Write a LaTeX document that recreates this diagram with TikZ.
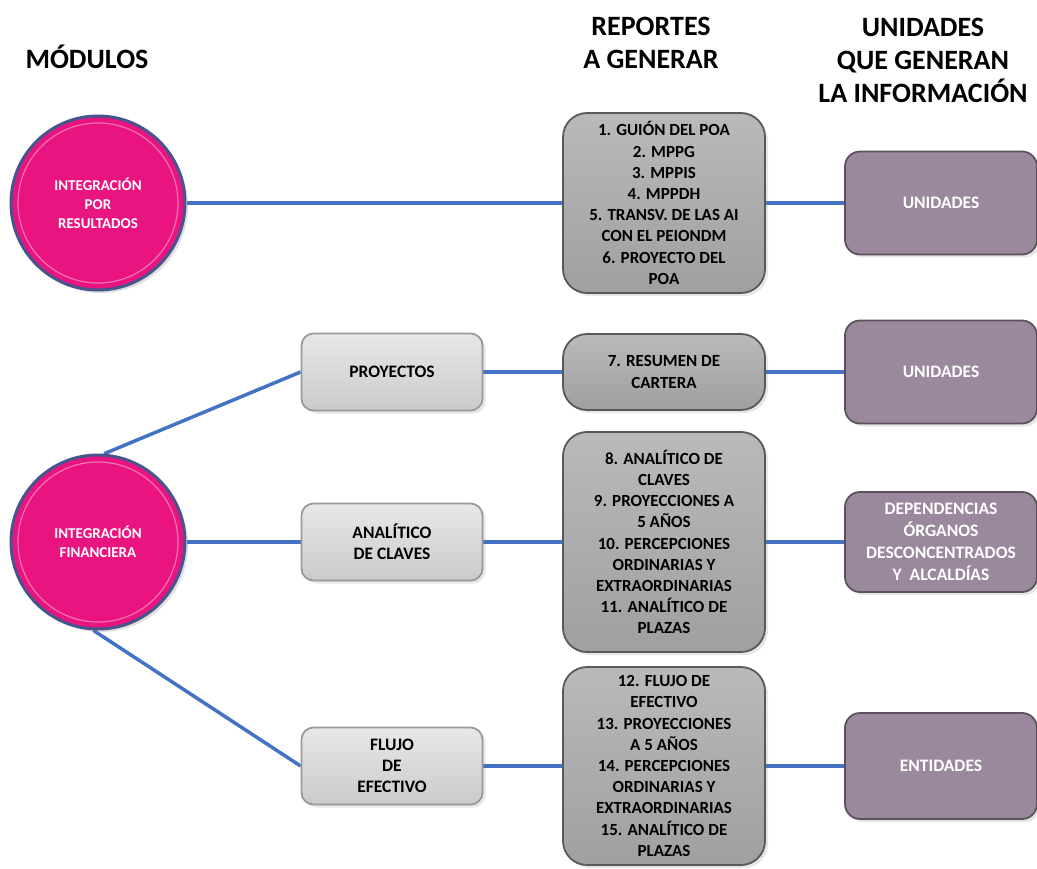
\documentclass[tikz,border=0pt]{standalone}
\usepackage{fontspec}
\setmainfont{Carlito}
\usetikzlibrary{shadows,backgrounds}

\definecolor{rosa}{RGB}{234,20,128}
\definecolor{aro}{RGB}{72,84,140}
\definecolor{linea}{RGB}{68,114,196}
\definecolor{gris}{RGB}{168,168,170}
\definecolor{grisclaro}{RGB}{216,216,218}
\definecolor{malva}{RGB}{154,136,156}

\tikzset{
  modulo/.style={circle, minimum size=174pt, inner sep=0pt, fill=rosa,
    draw=aro, line width=3pt, text=white, align=center,
    font=\fontsize{15}{19}\selectfont\bfseries,
    path picture={\draw[rosa!60!white, line width=1.2pt]
      (path picture bounding box.center) circle (80pt);},
    drop shadow={shadow xshift=3pt, shadow yshift=-3pt, opacity=.25}},
  submodulo/.style={rectangle, rounded corners=12pt, minimum width=181pt,
    minimum height=77pt, inner sep=0pt, top color=grisclaro!60!white,
    bottom color=grisclaro!85!gray, draw=gray!80, line width=1.8pt,
    align=center, font=\fontsize{17.5}{21}\selectfont\bfseries,
    drop shadow={shadow xshift=3pt, shadow yshift=-3pt, opacity=.2}},
  reporte/.style={rectangle, rounded corners=24pt, minimum width=202pt,
    inner sep=0pt, top color=gris!80!white, bottom color=gris!95!black,
    draw=gray!70!black, line width=1.8pt, align=center,
    font=\fontsize{17}{21.2}\selectfont\bfseries,
    drop shadow={shadow xshift=3pt, shadow yshift=-3pt, opacity=.2}},
  unidad/.style={rectangle, rounded corners=15pt, minimum width=192pt,
    inner sep=0pt, fill=malva, draw=malva!60!black, line width=1.8pt,
    text=white, align=center, font=\fontsize{17.5}{22}\selectfont\bfseries,
    drop shadow={shadow xshift=3pt, shadow yshift=-3pt, opacity=.2}},
  titulo/.style={align=center, font=\fontsize{28}{33}\selectfont\bfseries},
  enlace/.style={draw=linea, line width=3.5pt}
}

\begin{document}
\begin{tikzpicture}[x=1pt, y=-1pt]
  \useasboundingbox (0,0) rectangle (1037,869);

  % encabezados
  \node[titulo] (tmod) at (87,57) {MÓDULOS};
  \node[titulo] (trep) at (651,43) {REPORTES\\A GENERAR};
  \node[titulo] (tuni) at (923,60) {UNIDADES\\QUE GENERAN\\LA INFORMACIÓN};

  % modulos
  \node[modulo] (resultados) at (98,203) {INTEGRACIÓN\\POR\\RESULTADOS};
  \node[modulo] (financiera) at (98,542) {INTEGRACIÓN\\FINANCIERA};

  \node[submodulo] (proyectos) at (392,372) {PROYECTOS};
  \node[submodulo] (claves) at (392,542) {ANALÍTICO\\DE CLAVES};
  \node[submodulo] (flujo) at (392,766) {FLUJO\\DE\\EFECTIVO};

  % reportes
  \node[reporte, minimum height=180pt] (rep1) at (664,203)
    {1. GUIÓN DEL POA\\2. MPPG\\3. MPPIS\\4. MPPDH\\5. TRANSV. DE LAS AI\\CON EL PEIONDM\\6. PROYECTO DEL\\POA};
  \node[reporte, minimum height=76pt] (rep2) at (664,372)
    {7. RESUMEN DE\\CARTERA};
  \node[reporte, minimum height=220pt] (rep3) at (664,542)
    {8. ANALÍTICO DE\\CLAVES\\9. PROYECCIONES A\\5 AÑOS\\10. PERCEPCIONES\\ORDINARIAS Y\\EXTRAORDINARIAS\\11. ANALÍTICO DE\\PLAZAS};
  \node[reporte, minimum height=198pt] (rep4) at (664,766)
    {12. FLUJO DE\\EFECTIVO\\13. PROYECCIONES\\A 5 AÑOS\\14. PERCEPCIONES\\ORDINARIAS Y\\EXTRAORDINARIAS\\15. ANALÍTICO DE\\PLAZAS};

  % unidades
  \node[unidad, minimum height=103pt] (uni1) at (941,203) {UNIDADES};
  \node[unidad, minimum height=103pt] (uni2) at (941,372) {UNIDADES};
  \node[unidad, minimum height=100pt] (uni3) at (941,542)
    {DEPENDENCIAS\\ÓRGANOS\\DESCONCENTRADOS\\Y\ \ ALCALDÍAS};
  \node[unidad, minimum height=106pt] (uni4) at (941,766) {ENTIDADES};

  \begin{scope}[on background layer]
    \draw[enlace] (resultados) -- (rep1) -- (uni1);
    \draw[enlace] (financiera.86) -- (proyectos.west);
    \draw[enlace] (financiera) -- (claves) -- (rep3) -- (uni3);
    \draw[enlace] (financiera.-93) -- (flujo.west);
    \draw[enlace] (proyectos) -- (rep2) -- (uni2);
    \draw[enlace] (flujo) -- (rep4) -- (uni4);
  \end{scope}

\end{tikzpicture}
\end{document}
